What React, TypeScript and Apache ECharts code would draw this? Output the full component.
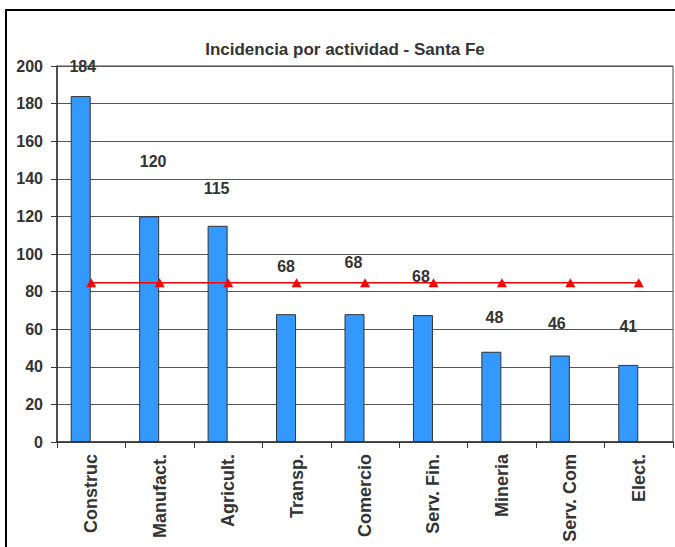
import React, { useEffect, useRef } from "react";
import * as echarts from "echarts";

const categories = ["Construc", "Manufact.", "Agricult.", "Transp.", "Comercio", "Serv. Fin.", "Mineria", "Serv. Com", "Elect."];
const incidence = [184, 120, 115, 68, 68, 67.5, 48, 46, 41];
const average = [84.7, 84.7, 84.7, 84.7, 84.7, 84.7, 84.7, 84.7, 84.7];
const yTicks = { min: 0, max: 200, interval: 20 };
const titleText = "Incidencia por actividad - Santa Fe";

const labelLift = [22, 47, 29.5, 40, 44, 30.6, 26, 24.5, 30];
const labelShift = [2, 4, -1, 0, -1, -2, 3, -3, 0];

const FONT = "'Liberation Sans', Arial, sans-serif";
const TXT = "#333333";

export default function App() {
  const ref = useRef<HTMLDivElement>(null);
  useEffect(() => {
    if (!ref.current) return;
    const chart = echarts.init(ref.current, undefined, { renderer: "svg" });
    chart.setOption({
      animation: false,
      backgroundColor: "#ffffff",
      textStyle: { fontFamily: FONT },
      title: {
        text: titleText,
        left: 340,
        top: 36,
        textAlign: "center",
        textStyle: { fontFamily: FONT, fontSize: 17, fontWeight: "bold", color: TXT },
      },
      graphic: [
        {
          type: "rect",
          shape: { x: 6, y: 10, width: 720, height: 600 },
          style: { fill: "none", stroke: "#000000", lineWidth: 2 },
          silent: true,
        },
      ],
      grid: {
        left: 57,
        right: 2,
        top: 66,
        bottom: 105,
        show: true,
        borderColor: "#444444",
        borderWidth: 1,
        containLabel: false,
      },
      xAxis: {
        type: "category",
        data: categories,
        boundaryGap: true,
        axisLine: { show: true, lineStyle: { color: "#333333", width: 1.5 } },
        axisTick: { show: true, length: 6, lineStyle: { color: "#333333" } },
        axisLabel: {
          rotate: 90,
          interval: 0,
          margin: 12,
          fontFamily: FONT,
          fontSize: 18,
          fontWeight: "bold",
          color: TXT,
        },
      },
      yAxis: {
        type: "value",
        min: yTicks.min,
        max: yTicks.max,
        interval: yTicks.interval,
        axisLine: { show: true, lineStyle: { color: "#333333", width: 1.5 } },
        axisTick: { show: true, length: 6, lineStyle: { color: "#333333" } },
        splitLine: { show: true, lineStyle: { color: "#555555", width: 1 } },
        axisLabel: {
          margin: 14,
          fontFamily: FONT,
          fontSize: 16,
          fontWeight: "bold",
          color: TXT,
        },
      },
      series: [
        {
          type: "bar",
          name: "Incidencia",
          barWidth: 20,
          barGap: "5%",
          data: incidence.map((v, i) => ({
            value: v,
            label: {
              distance: labelLift[i],
              offset: [labelShift[i], 0],
            },
          })),
          itemStyle: { color: "#3399FF", borderColor: "#333333", borderWidth: 1 },
          label: {
            show: true,
            position: "top",
            fontFamily: FONT,
            fontSize: 16,
            fontWeight: "bold",
            color: TXT,
            formatter: (p: any) => String(Math.round(p.value)),
          },
          z: 2,
        },
        {
          type: "bar",
          name: "spacer",
          barWidth: 20,
          data: categories.map(() => null),
          itemStyle: { color: "transparent" },
        },
        {
          type: "line",
          name: "Promedio",
          data: average,
          symbol: "triangle",
          symbolSize: [10, 9],
          itemStyle: { color: "#FF0000" },
          lineStyle: { color: "#FF0000", width: 1.5 },
          z: 3,
        },
      ],
    });
    return () => chart.dispose();
  }, []);
  return (
    <div
      ref={ref}
      style={{ position: "fixed", left: 0, top: 0, width: 675, height: 547, background: "#ffffff" }}
    />
  );
}
